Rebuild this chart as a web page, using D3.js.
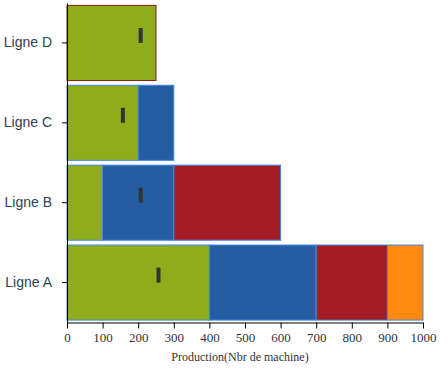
<!DOCTYPE html>
<html>
<head>
<meta charset="utf-8">
<script src="https://cdn.jsdelivr.net/npm/d3@7"></script>
<style>
  body { margin: 0; background: #fff; }
  svg { display: block; }
</style>
</head>
<body>
<div id="chart"></div>
<script>
'use strict'

const lignes = ['Ligne A', 'Ligne B', 'Ligne C', 'Ligne D']
const serie1 = [400, 100, 200, 250]
const serie2 = [300, 200, 100, 0]
const serie3 = [200, 300, 0, 0]
const serie4 = [100, 0, 0, 0]
const objectifs = [257, 207, 157, 207]
const xTicks = [0, 100, 200, 300, 400, 500, 600, 700, 800, 900, 1000]

const couleurs = ['#8fad1a', '#255da1', '#a31d25', '#fe8a12']
const bordures = ['#4189e8', '#4189e8', '#4189e8', '#8b1a1a']

const margin = { top: 3, left: 67 }
const width = 356
const height = 319.5

const data = lignes.map((l, i) => ({
  ligne: l, s1: serie1[i], s2: serie2[i], s3: serie3[i], s4: serie4[i], objectif: objectifs[i], idx: i
}))

const svg = d3.select('#chart')
  .append('svg')
  .attr('width', 448)
  .attr('height', 373)

const g = svg.append('g')
  .attr('transform', `translate(${margin.left}, ${margin.top})`)

const xScale = d3.scaleLinear()
  .domain([0, 1000])
  .range([0, width])

const yScale = d3.scaleBand()
  .domain(lignes.slice().reverse())
  .range([0, height])
  .paddingInner(0.06)
  .paddingOuter(0.03)

const stack = d3.stack().keys(['s1', 's2', 's3', 's4'])
const series = stack(data)

// barres empilées
g.selectAll('g.serie')
  .data(series)
  .enter()
  .append('g')
  .attr('class', 'serie')
  .attr('fill', (d, i) => couleurs[i])
  .selectAll('rect')
  .data(d => d.filter(p => p[1] - p[0] > 0))
  .enter()
  .append('rect')
  .attr('x', d => xScale(d[0]))
  .attr('y', d => yScale(d.data.ligne))
  .attr('width', d => xScale(d[1]) - xScale(d[0]))
  .attr('height', yScale.bandwidth())
  .attr('stroke', d => bordures[d.data.idx])
  .attr('stroke-width', 1)

// objectifs
g.selectAll('rect.objectif')
  .data(data)
  .enter()
  .append('rect')
  .attr('class', 'objectif')
  .attr('x', d => xScale(d.objectif) - 2)
  .attr('y', d => yScale(d.ligne) + yScale.bandwidth() / 2 - 15)
  .attr('width', 4)
  .attr('height', 15)
  .attr('fill', '#333')

// axe x
const xAxis = g.append('g')
  .attr('transform', `translate(0, ${height})`)
  .call(d3.axisBottom(xScale).tickValues(xTicks).tickFormat(d3.format('d')).tickSizeOuter(0).tickPadding(4))
xAxis.selectAll('text')
  .attr('font-family', '"Liberation Serif", "Times New Roman", serif')
  .attr('font-size', '13px')
  .attr('fill', '#333')

// axe y
const yAxis = g.append('g')
  .call(d3.axisLeft(yScale).tickSize(5).tickSizeOuter(0).tickPadding(10))
yAxis.selectAll('text')
  .attr('font-family', '"Liberation Sans", Arial, sans-serif')
  .attr('font-size', '14px')
  .attr('fill', '#2b4356')

svg.append('text')
  .attr('x', 240)
  .attr('y', 361)
  .attr('text-anchor', 'middle')
  .attr('font-family', '"Liberation Serif", "Times New Roman", serif')
  .attr('font-size', '12px')
  .attr('fill', '#333')
  .text('Production(Nbr de machine)')
</script>
</body>
</html>
